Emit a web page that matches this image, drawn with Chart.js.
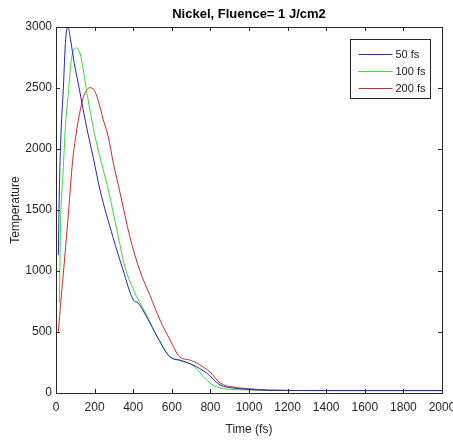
<!DOCTYPE html>
<html>
<head>
<meta charset="utf-8">
<script src="https://cdn.jsdelivr.net/npm/chart.js@4/dist/chart.umd.min.js"></script>
<style>
  body { margin: 0; background: #fff; }
  canvas { display: block; }
</style>
</head>
<body>
<canvas id="graf" width="453" height="443"></canvas>
<script>
// Data lest av bildet (tid i fs, temperatur)
const seriesNames = ['50 fs', '100 fs', '200 fs'];
const tittel = 'Nickel, Fluence= 1 J/cm2';

const tid50 = [12, 18, 24, 38, 50, 62, 75, 95, 120, 141, 165, 193, 228, 295, 347, 401, 425, 470, 528, 591, 642, 710, 780, 850, 917, 1000, 1100, 1400, 2000];
const temp50 = [1130, 1700, 2050, 2500, 2900, 3000, 2900, 2700, 2500, 2320, 2130, 1930, 1664, 1279, 1010, 762, 738, 623, 451, 295, 270, 230, 164, 66, 41, 30, 22, 20, 20];

const tid100 = [18, 22, 38, 50, 64, 80, 107, 125, 141, 158, 176, 200, 228, 271, 323, 357, 409, 461, 528, 591, 642, 710, 780, 833, 900, 1000, 1100, 1400, 2000];
const temp100 = [740, 1250, 1850, 2210, 2460, 2740, 2828, 2780, 2650, 2480, 2320, 2120, 1934, 1664, 1279, 1033, 820, 664, 451, 295, 265, 225, 107, 49, 30, 25, 20, 20, 20];

const tid200 = [12, 25, 41, 67, 86, 104, 122, 141, 159, 176, 199, 218, 245, 271, 297, 332, 383, 435, 487, 539, 591, 642, 694, 746, 798, 850, 917, 1000, 1100, 1400, 2000];
const temp200 = [502, 750, 1033, 1525, 1900, 2120, 2290, 2420, 2484, 2502, 2480, 2400, 2240, 2100, 1885, 1640, 1279, 1000, 800, 598, 434, 295, 270, 230, 172, 82, 49, 35, 25, 20, 20];

const xTicks = [0, 200, 400, 600, 800, 1000, 1200, 1400, 1600, 1800, 2000];
const yTicks = [0, 500, 1000, 1500, 2000, 2500, 3000];

const farger = ['rgb(35,35,210)', 'rgb(50,225,50)', 'rgb(225,35,35)'];
const skrift = '"Liberation Sans", Arial, sans-serif';

function lagPunkter(xs, ys) {
    return xs.map((x, i) => ({ x: x, y: ys[i] }));
}

const alleTider = [tid50, tid100, tid200];
const alleTemp = [temp50, temp100, temp200];

const datasets = seriesNames.map((navn, i) => ({
    label: navn,
    data: lagPunkter(alleTider[i], alleTemp[i]),
    borderColor: farger[i],
    borderWidth: 1,
    pointRadius: 0,
    cubicInterpolationMode: 'monotone',
    fill: false
}));

const aksekant = '#262626';

// Ramme, innvendige tick-merker, tittel og legende som i MATLAB
const matlabBoks = {
    id: 'matlabBoks',
    afterDraw(chart) {
        const ctx = chart.ctx;
        const a = chart.chartArea;
        const xs = chart.scales.x;
        const ys = chart.scales.y;
        ctx.save();
        ctx.strokeStyle = aksekant;
        ctx.lineWidth = 1;
        ctx.strokeRect(Math.round(a.left) + 0.5, Math.round(a.top) + 0.5,
            Math.round(a.right - a.left), Math.round(a.bottom - a.top));
        ctx.beginPath();
        xTicks.forEach(v => {
            const px = Math.round(xs.getPixelForValue(v)) + 0.5;
            ctx.moveTo(px, a.bottom); ctx.lineTo(px, a.bottom - 4);
            ctx.moveTo(px, a.top); ctx.lineTo(px, a.top + 4);
        });
        yTicks.forEach(v => {
            const py = Math.round(ys.getPixelForValue(v)) + 0.5;
            ctx.moveTo(a.left, py); ctx.lineTo(a.left + 4, py);
            ctx.moveTo(a.right, py); ctx.lineTo(a.right - 4, py);
        });
        ctx.stroke();

        // tittel over plottet
        ctx.fillStyle = '#000';
        ctx.font = 'bold 13px ' + skrift;
        ctx.textAlign = 'center';
        ctx.textBaseline = 'middle';
        ctx.fillText(tittel, (a.left + a.right) / 2, a.top - 13);

        // legende
        const bw = 80, bh = 59;
        const bx = Math.round(a.right - 12 - bw) + 0.5;
        const by = Math.round(a.top + 12) + 0.5;
        ctx.fillStyle = '#fff';
        ctx.fillRect(bx, by, bw, bh);
        ctx.strokeStyle = aksekant;
        ctx.strokeRect(bx, by, bw, bh);
        ctx.font = '11px ' + skrift;
        ctx.textAlign = 'left';
        chart.data.datasets.forEach((ds, i) => {
            const ly = Math.round(by + 14 + i * 17) + 0.5;
            ctx.strokeStyle = ds.borderColor;
            ctx.beginPath();
            ctx.moveTo(bx + 8, ly);
            ctx.lineTo(bx + 42, ly);
            ctx.stroke();
            ctx.fillStyle = '#1a1a1a';
            ctx.fillText(ds.label, bx + 45, ly);
        });
        ctx.restore();
    }
};

new Chart(document.getElementById('graf'), {
    type: 'line',
    data: { datasets: datasets },
    options: {
        responsive: false,
        animation: false,
        devicePixelRatio: 1,
        layout: { padding: { left: 0, right: 0, top: 27, bottom: 0 } },
        plugins: {
            legend: { display: false },
            tooltip: { enabled: false },
            title: { display: false }
        },
        scales: {
            x: {
                type: 'linear',
                min: 0,
                max: 2000,
                afterBuildTicks: s => { s.ticks = xTicks.map(v => ({ value: v })); },
                afterFit: s => { s.height = 50; s.paddingRight = 11; s.paddingLeft = 0; },
                grid: { display: false, drawTicks: false },
                border: { display: false },
                ticks: {
                    color: aksekant,
                    padding: 7,
                    maxRotation: 0,
                    autoSkip: false,
                    callback: v => String(v),
                    font: { family: skrift, size: 12 }
                },
                title: {
                    display: true,
                    text: 'Time (fs)',
                    color: aksekant,
                    font: { family: skrift, size: 12 },
                    padding: { top: 0, bottom: 6 }
                }
            },
            y: {
                min: 0,
                max: 3000,
                afterBuildTicks: s => { s.ticks = yTicks.map(v => ({ value: v })); },
                afterFit: s => { s.width = 56; s.paddingTop = 0; s.paddingBottom = 0; },
                grid: { display: false, drawTicks: false },
                border: { display: false },
                ticks: {
                    color: aksekant,
                    padding: 4,
                    autoSkip: false,
                    callback: v => String(v),
                    font: { family: skrift, size: 12 }
                },
                title: {
                    display: true,
                    text: 'Temperature',
                    color: aksekant,
                    font: { family: skrift, size: 12 },
                    padding: { top: 8, bottom: 0 }
                }
            }
        }
    },
    plugins: [matlabBoks]
});
</script>
</body>
</html>
